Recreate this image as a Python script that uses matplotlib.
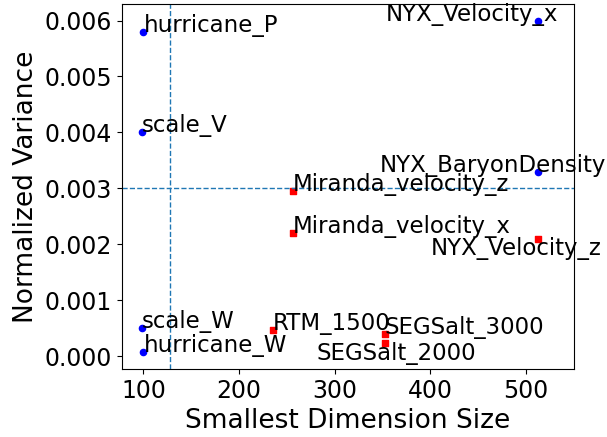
import matplotlib
matplotlib.use('Agg')
import matplotlib.pyplot as plt

# smallest dimension vs normalized variance per field
blue_names = ['hurricane_P', 'scale_V', 'scale_W', 'hurricane_W',
              'NYX_Velocity_x', 'NYX_BaryonDensity']
blue_x = [100, 98, 98, 100, 512, 512]
blue_y = [0.0058, 0.0040, 0.0005, 0.00007, 0.0060, 0.0033]

red_names = ['Miranda_velocity_z', 'Miranda_velocity_x', 'NYX_Velocity_z',
             'RTM_1500', 'SEGSalt_3000', 'SEGSalt_2000']
red_x = [256, 256, 512, 235, 352, 352]
red_y = [0.00295, 0.0022, 0.0021, 0.00046, 0.00039, 0.00024]

# label shifts (data units) so names don't pile up
shift = {
    'NYX_Velocity_x': (-159, 0),
    'NYX_BaryonDensity': (-165, 0),
    'NYX_Velocity_z': (-112, -0.0003),
    'SEGSalt_2000': (-71, -0.0003),
}

fig, ax = plt.subplots(figsize=(6.07, 4.37), dpi=100)
fig.subplots_adjust(left=0.2005, right=0.9456, top=0.991, bottom=0.156)

ax.scatter(blue_x, blue_y, c='blue', s=20)
ax.scatter(red_x, red_y, c='red', marker='s', s=20)

for names, xs, ys in [(blue_names, blue_x, blue_y), (red_names, red_x, red_y)]:
    for n, x, y in zip(names, xs, ys):
        dx, dy = shift.get(n, (0, 0))
        ax.text(x + dx, y + dy, n, fontsize=16.5)

ax.axhline(0.003, ls='--', lw=1)
ax.axvline(128, ls='--', lw=1)

ax.set_xlim(77.3, 550)
ax.set_xlabel('Smallest Dimension Size', fontsize=19)
ax.set_ylabel('Normalized Variance', fontsize=19)
ax.tick_params(labelsize=17)

plt.savefig('out.png')
